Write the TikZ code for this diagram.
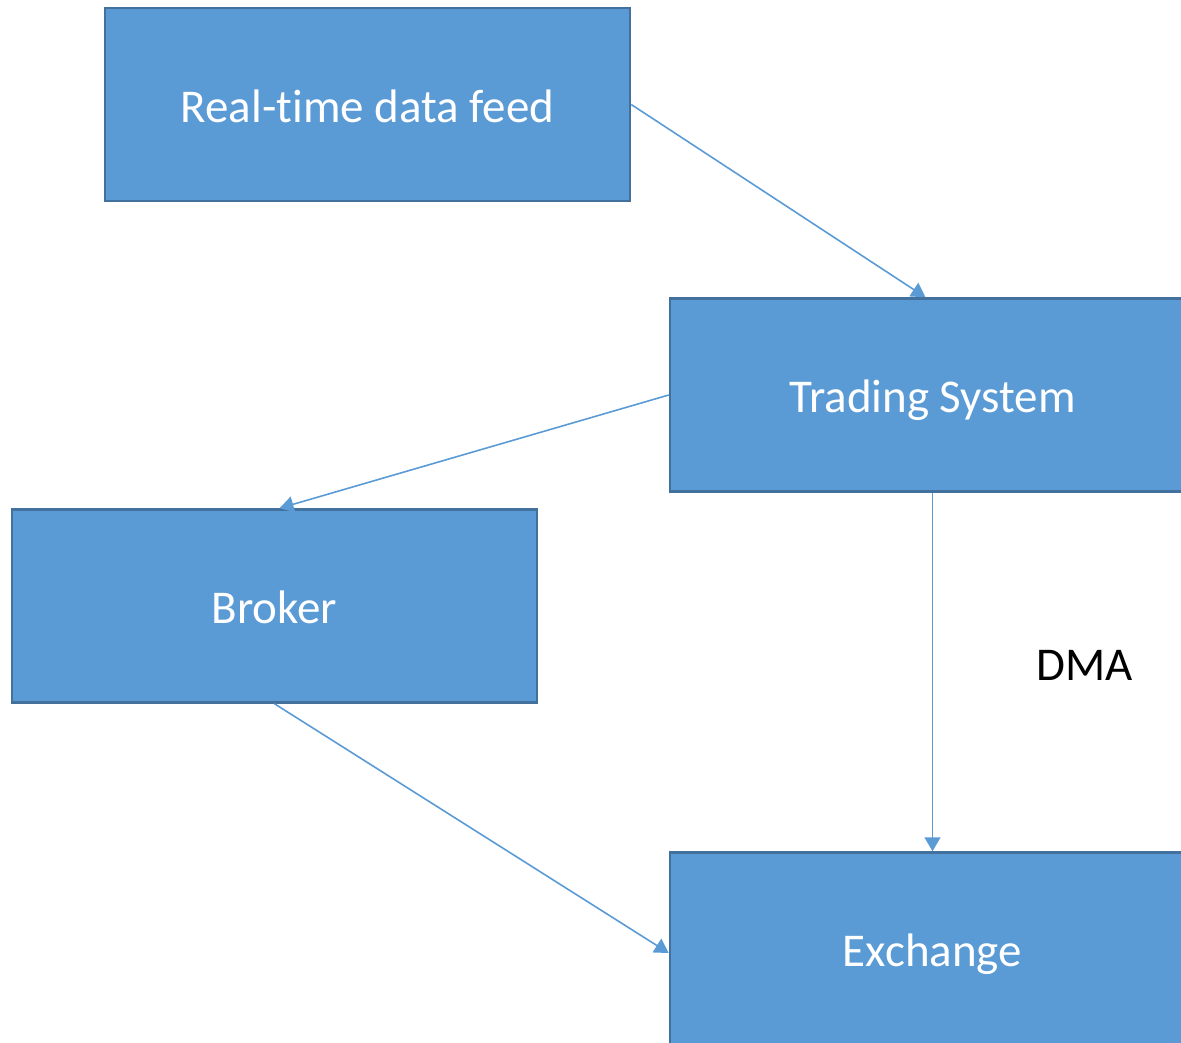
\documentclass[tikz,border=0pt]{standalone}
\usepackage{fontspec}
\setmainfont{Carlito}[Ligatures=NoCommon]
\usepackage{xcolor}
\usepackage{tikz}
\usetikzlibrary{arrows.meta}
\definecolor{boxfill}{HTML}{5B9BD5}
\definecolor{boxline}{HTML}{41719C}

\begin{document}
\begin{tikzpicture}[x=1pt,y=-1pt,
  block/.style={draw=boxline,line width=2.5pt,fill=boxfill,text=white,minimum width=525pt,minimum height=193pt,inner sep=0pt,text height=40pt,text depth=5pt,font=\fontsize{47}{56}\selectfont},
  link/.style={draw=boxfill,line width=1.6pt,-{Triangle[width=16pt,length=14pt]}}]
\useasboundingbox(0,0)rectangle(1181,1042);
\clip(0,0)rectangle(1181,1042);
\node[block](feed)at(367.5,104.5){Real-time data feed};
\node[block](trading)at(932.5,395){Trading System};
\node[block](broker)at(274.5,606){Broker};
\node[block](exchange)at(932.5,949){Exchange};
\draw[link](feed.east)--([xshift=-7pt]trading.north);
\draw[link](trading.west)--([xshift=5pt]broker.north);
\draw[link](trading.south)--(exchange.north);
\draw[link](broker.south)--([yshift=-4pt]exchange.west);
\node[font=\fontsize{47}{56}\selectfont](dma)at(1084.5,665){DMA};
\end{tikzpicture}
\end{document}
